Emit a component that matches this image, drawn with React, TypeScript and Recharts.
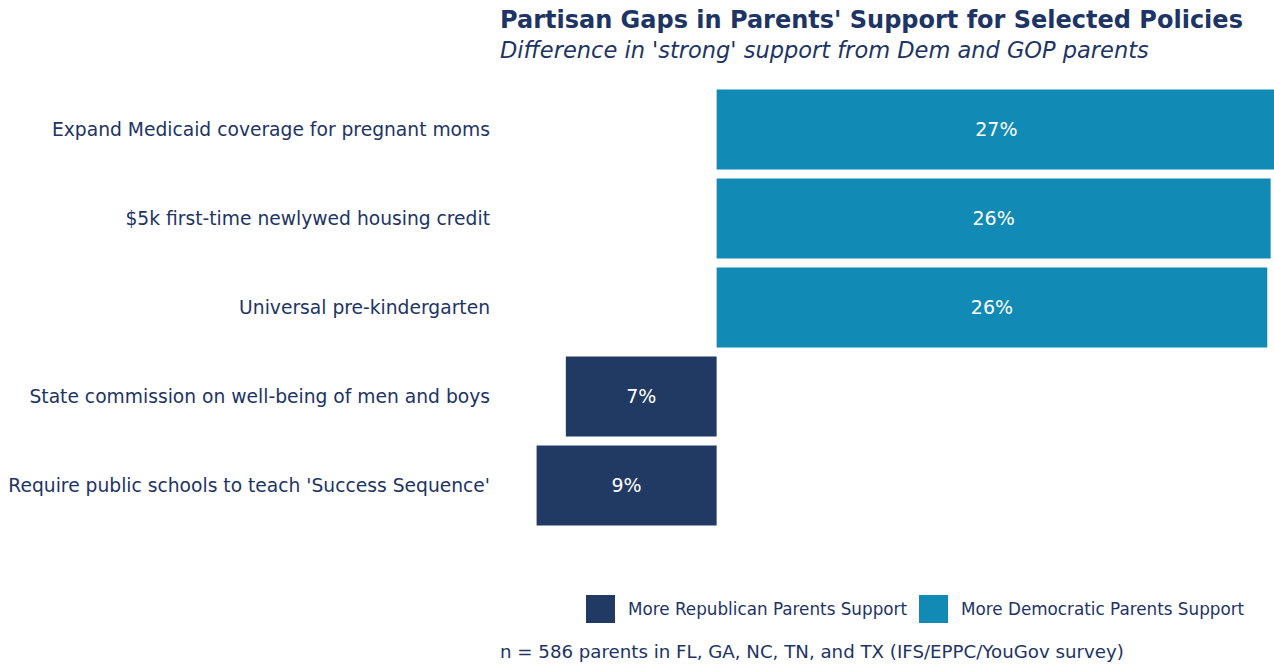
import React from "react";
import { BarChart, Bar, XAxis, YAxis, Cell, LabelList } from "recharts";

const policies = [
  "Expand Medicaid coverage for pregnant moms",
  "$5k first-time newlywed housing credit",
  "Universal pre-kindergarten",
  "State commission on well-being of men and boys",
  "Require public schools to teach 'Success Sequence'",
];
// positive = more Democratic parents support, negative = more Republican
const gaps = [26.6, 26.34, 26.18, -7.17, -8.56];
const legendItems = ["More Republican Parents Support", "More Democratic Parents Support"];

const NAVY = "#1d3466";
const DARK = "#213a63";
const TEAL = "#118ab5";
const FONT = "'DejaVu Sans', sans-serif";

const data = policies.map((p, i) => ({ policy: p, gap: gaps[i] }));

export default function App() {
  return (
    <div style={{ position: "absolute", left: 0, top: 0, width: 1274, height: 667, background: "#fff", fontFamily: FONT, overflow: "hidden" }}>
      <div style={{ position: "absolute", left: 500, top: 6, fontSize: 24, fontWeight: 700, color: NAVY, whiteSpace: "nowrap" }}>
        Partisan Gaps in Parents' Support for Selected Policies
      </div>
      <div style={{ position: "absolute", left: 500, top: 37, fontSize: 22.5, fontStyle: "italic", color: NAVY, whiteSpace: "nowrap" }}>
        Difference in 'strong' support from Dem and GOP parents
      </div>

      <BarChart
        width={1274}
        height={667}
        data={data}
        layout="vertical"
        margin={{ top: 84.5, right: 0, bottom: 137.5, left: 0 }}
      >
        <XAxis type="number" hide domain={[-10.3, 26.5]} allowDataOverflow />
        <YAxis
          type="category"
          dataKey="policy"
          width={500}
          tickSize={0}
          tickMargin={10}
          axisLine={false}
          tickLine={false}
          tick={{ fill: NAVY, fontSize: 18.7, fontFamily: FONT }}
        />
        <Bar dataKey="gap" barSize={80} isAnimationActive={false}>
          {data.map((d, i) => (
            <Cell key={i} fill={d.gap < 0 ? DARK : TEAL} />
          ))}
          <LabelList
            dataKey="gap"
            position="center"
            fill="#fff"
            fontSize={19}
            fontFamily={FONT}
            formatter={(v: any) => `${Math.round(Math.abs(Number(v)))}%`}
          />
        </Bar>
      </BarChart>

      <div style={{ position: "absolute", left: 586, top: 595, display: "flex", alignItems: "center", color: NAVY, fontSize: 16.8 }}>
        {legendItems.map((label, i) => (
          <div key={label} style={{ display: "flex", alignItems: "center", marginRight: 12 }}>
            <span style={{ width: 29, height: 28, background: i === 0 ? DARK : TEAL, display: "inline-block", marginRight: 13 }} />
            <span>{label}</span>
          </div>
        ))}
      </div>

      <div style={{ position: "absolute", left: 500, top: 641, fontSize: 18.2, color: NAVY, whiteSpace: "nowrap" }}>
        n = 586 parents in FL, GA, NC, TN, and TX (IFS/EPPC/YouGov survey)
      </div>
    </div>
  );
}
